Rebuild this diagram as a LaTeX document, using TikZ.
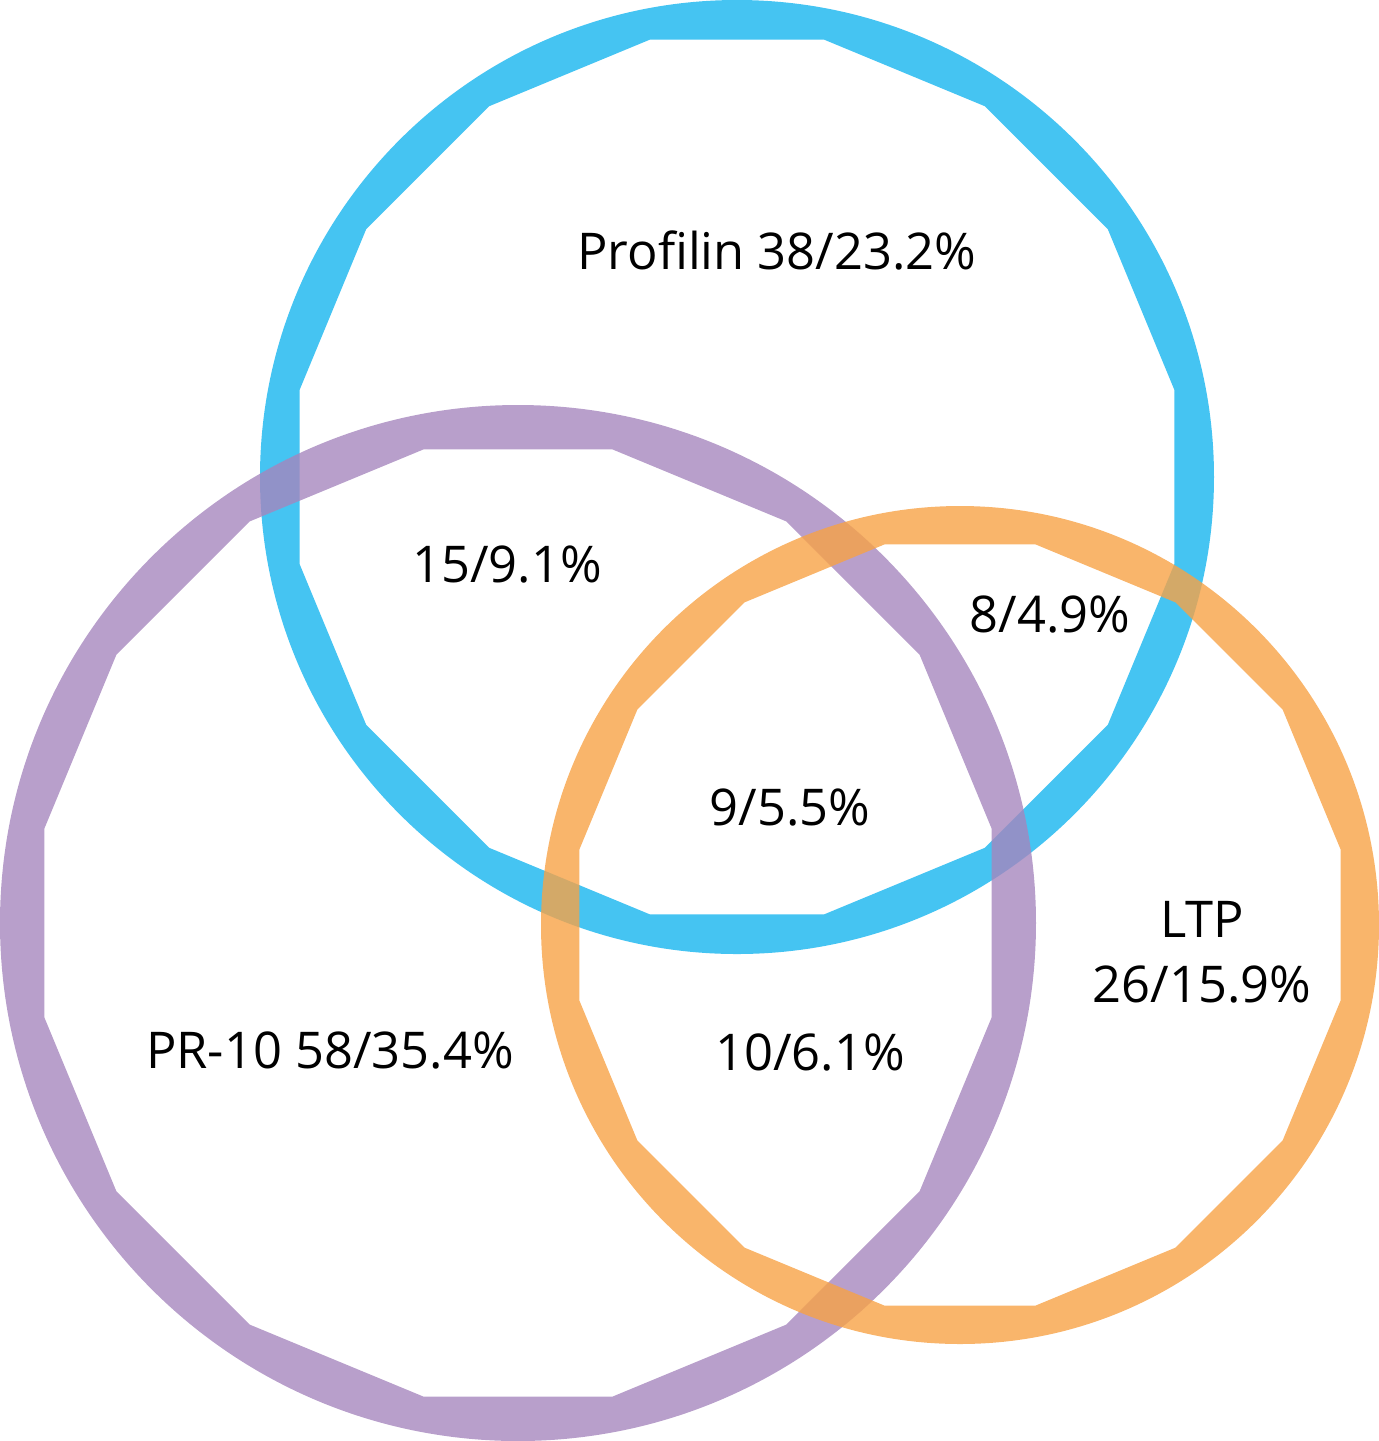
\documentclass[tikz,border=0pt]{standalone}
\usepackage{fontspec}
\setmainfont{Open Sans}
\definecolor{profblue}{RGB}{22,181,239}
\definecolor{prpurple}{RGB}{166,135,190}
\definecolor{ltporange}{RGB}{247,162,70}
\tikzset{
  ring/.style={even odd rule,fill opacity=0.8},
  lbl/.style={font=\fontsize{14.4}{18.4}\selectfont,align=center,inner sep=0pt}
}
\begin{document}
\begin{tikzpicture}[x=0.01cm,y=-0.01cm]
  \useasboundingbox (0,0) rectangle (1379,1441);
  \coordinate (cprof) at (737,477);
  \coordinate (cpr) at (518,923);
  \coordinate (cltp) at (960,925);
  % rings: round outside, 16-gon inside
  \fill[ring,profblue] (cprof) circle[radius=477]
    ([shift={(cprof)}]11.25:446) \foreach \k in {1,...,15}{ -- ([shift={(cprof)}]11.25+22.5*\k:446)} -- cycle;
  \fill[ring,prpurple] (cpr) circle[radius=518]
    ([shift={(cpr)}]11.25:483) \foreach \k in {1,...,15}{ -- ([shift={(cpr)}]11.25+22.5*\k:483)} -- cycle;
  \fill[ring,ltporange] (cltp) circle[radius=419]
    ([shift={(cltp)}]11.25:388) \foreach \k in {1,...,15}{ -- ([shift={(cltp)}]11.25+22.5*\k:388)} -- cycle;
  % labels
  \node[lbl] (profonly) at (777,250) {Profilin 38/23.2\%};
  \node[lbl] (profpr) at (507,565) {15/9.1\%};
  \node[lbl] (profltp) at (1050,615) {8/4.9\%};
  \node[lbl] (allthree) at (790,808) {9/5.5\%};
  \node[lbl] (ltponly) at (1202,952) {LTP\\26/15.9\%};
  \node[lbl] (pronly) at (330,1050) {PR-10 58/35.4\%};
  \node[lbl] (prltp) at (810,1052) {10/6.1\%};
\end{tikzpicture}
\end{document}
